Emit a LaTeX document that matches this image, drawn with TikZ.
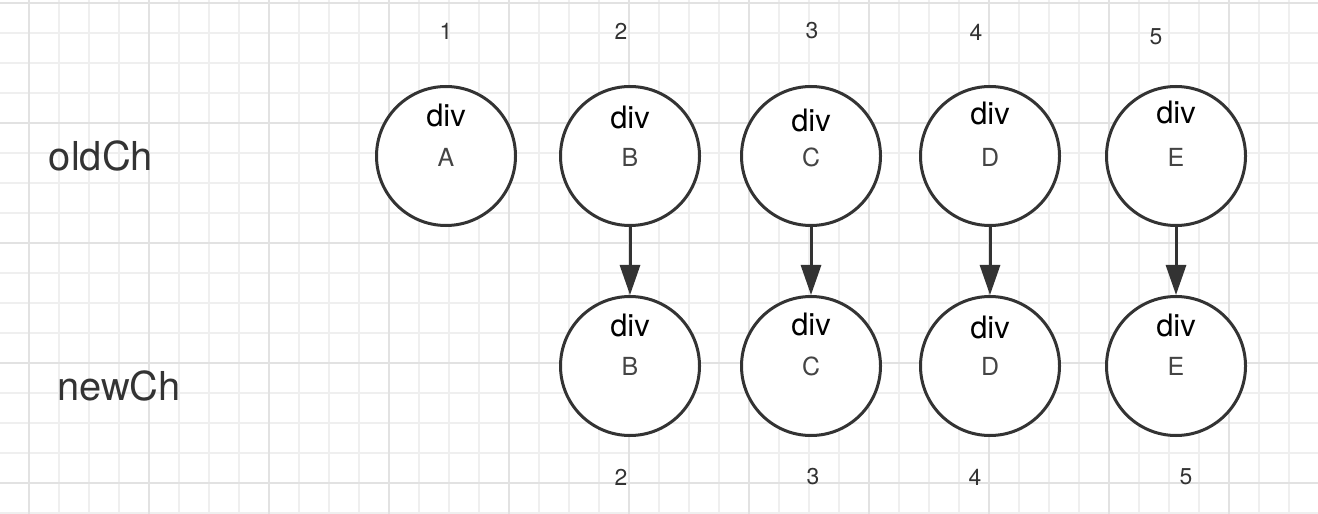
\documentclass[tikz,border=0pt]{standalone}
\usepackage{fontspec}
\setmainfont{TeX Gyre Heros}
\usepackage{tikz}
\usetikzlibrary{arrows.meta}
\definecolor{minorgrid}{HTML}{EFEFEF}
\definecolor{majorgrid}{HTML}{E2E2E2}
\definecolor{ink}{HTML}{333333}
\definecolor{keyink}{HTML}{444444}
\tikzset{
  gridminor/.style={minorgrid, line width=1.5bp},
  gridmajor/.style={majorgrid, line width=2bp},
  vnode/.style={circle, draw=ink, line width=3bp, fill=white, minimum size=139bp, inner sep=0},
  tagtext/.style={inner sep=0, font=\fontsize{31}{31}\selectfont, text=black},
  keytext/.style={inner sep=0, font=\fontsize{25}{25}\selectfont, text=keyink},
  idxtext/.style={inner sep=0, font=\fontsize{23}{23}\selectfont, text=ink},
  rowtext/.style={inner sep=0, font=\fontsize{40}{40}\selectfont, text=ink},
  patch/.style={draw=ink, line width=3bp, -{Triangle[length=30bp,width=20bp]}},
}

\begin{document}
\begin{tikzpicture}[x=1bp, y=-1bp]
\useasboundingbox (0,0) rectangle (1318,514);
\fill[white] (0,0) rectangle (1318,514);
% grid
\foreach \gx in {-1,29,...,1319} \draw[gridminor] (\gx,0) -- (\gx,514);
\foreach \gy in {3,33,...,513} \draw[gridminor] (0,\gy) -- (1318,\gy);
\foreach \gx in {29,149,...,1229} \draw[gridmajor] (\gx,0) -- (\gx,514);
\foreach \gy in {3,123,...,483} \draw[gridmajor] (0,\gy) -- (1318,\gy);
% row names
\node[rowtext] (oldrow) at (101,156) {oldCh};
\node[rowtext] (newrow) at (119,386) {newCh};
% old children
\foreach \k/\x/\ty in {A/446/115, B/630/117, C/811/120, D/990/113, E/1176/112} {
  \node[vnode] (o\k) at (\x,156) {};
  \node[tagtext] (odiv\k) at (\x,\ty) {div};
  \node[keytext] (okey\k) at (\x,157) {\k};
}
% new children
\foreach \k/\x/\ty in {B/630/325, C/811/324, D/990/327, E/1176/325} {
  \node[vnode] (n\k) at (\x,366) {};
  \node[tagtext] (ndiv\k) at (\x,\ty) {div};
  \node[keytext] (nkey\k) at (\x,366) {\k};
}
\foreach \k in {B,C,D,E} \draw[patch] (o\k) -- (n\k);
% indices
\foreach \i/\x/\y in {1/446/31, 2/621/31, 3/812/31, 4/976/32, 5/1156/37}
  \node[idxtext] (top\i) at (\x,\y) {\i};
\foreach \i/\x in {2/621, 3/813, 4/975, 5/1186}
  \node[idxtext] (bot\i) at (\x,477) {\i};
\end{tikzpicture}
\end{document}
